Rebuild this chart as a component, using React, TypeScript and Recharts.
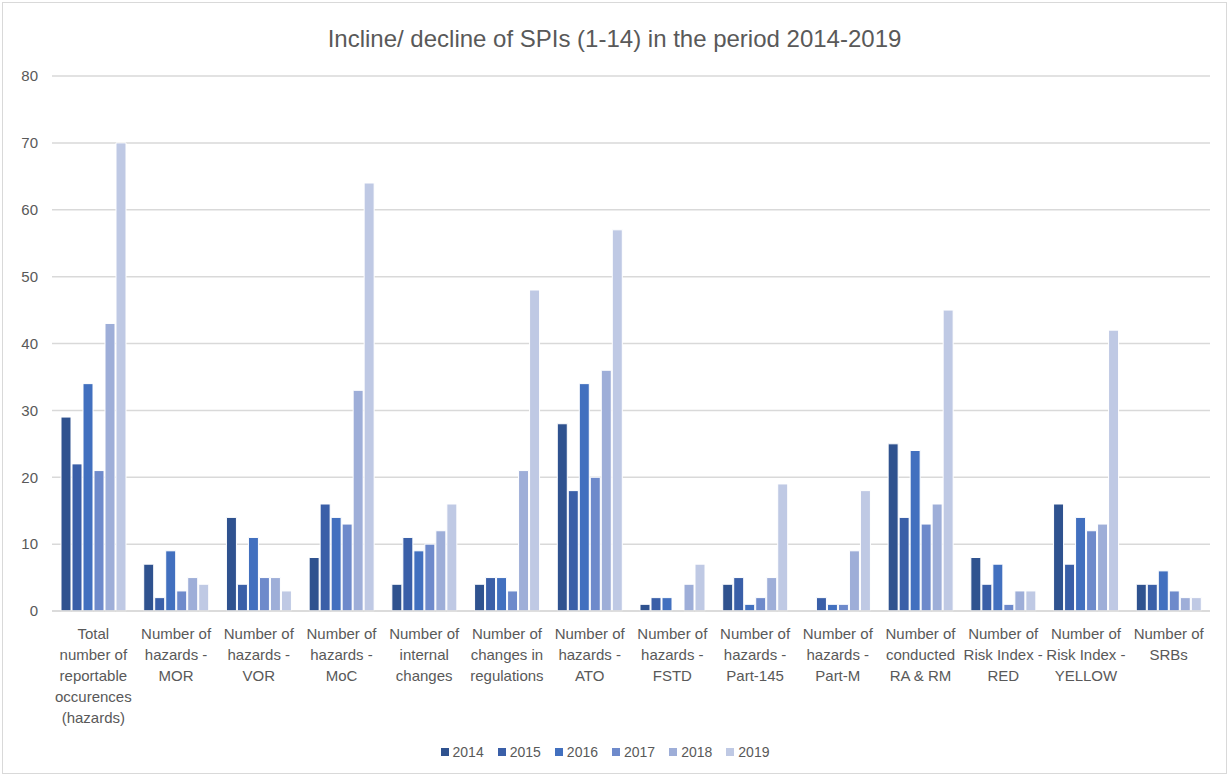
import React from 'react'
import { BarChart, Bar, XAxis, YAxis, CartesianGrid, Legend } from 'recharts'

const FONT = "'Liberation Sans Narrow', 'Arial Narrow', 'Liberation Sans', Arial, sans-serif"
const TEXT = '#595959'
const GRID = '#D9D9D9'

const categories = [
  'Total\nnumber of\nreportable\noccurences\n(hazards)',
  'Number of\nhazards -\nMOR',
  'Number of\nhazards -\nVOR',
  'Number of\nhazards -\nMoC',
  'Number of\ninternal\nchanges',
  'Number of\nchanges in\nregulations',
  'Number of\nhazards -\nATO',
  'Number of\nhazards -\nFSTD',
  'Number of\nhazards -\nPart-145',
  'Number of\nhazards -\nPart-M',
  'Number of\nconducted\nRA & RM',
  'Number of\nRisk Index -\nRED',
  'Number of\nRisk Index -\nYELLOW',
  'Number of\nSRBs',
]

const years = ['2014', '2015', '2016', '2017', '2018', '2019']
const colours = ['#2F528F', '#3A5FA8', '#4270BF', '#6E8ACB', '#9EAED8', '#BFC9E4']

const v2014 = [29, 7, 14, 8, 4, 4, 28, 1, 4, 0, 25, 8, 16, 4]
const v2015 = [22, 2, 4, 16, 11, 5, 18, 2, 5, 2, 14, 4, 7, 4]
const v2016 = [34, 9, 11, 14, 9, 5, 34, 2, 1, 1, 24, 7, 14, 6]
const v2017 = [21, 3, 5, 13, 10, 3, 20, 0, 2, 1, 13, 1, 12, 3]
const v2018 = [43, 5, 5, 33, 12, 21, 36, 4, 5, 9, 16, 3, 13, 2]
const v2019 = [70, 4, 3, 64, 16, 48, 57, 7, 19, 18, 45, 3, 42, 2]

const yTicks = [0, 10, 20, 30, 40, 50, 60, 70, 80]

const series = [v2014, v2015, v2016, v2017, v2018, v2019]
const data = categories.map((name, i) => {
  const row: Record<string, string | number> = { name }
  years.forEach((y, s) => { row[y] = series[s][i] })
  return row
})

function CategoryTick({ x, y, payload }: any) {
  const lines = String(payload.value).split('\n')
  return (
    <text x={x} y={y + 20} textAnchor="middle" fill={TEXT} fontSize={15} fontFamily={FONT}>
      {lines.map((l, i) => (
        <tspan key={i} x={x} dy={i === 0 ? 0 : 21}>{l}</tspan>
      ))}
    </text>
  )
}

function LegendContent() {
  return (
    <div style={{ display: 'flex', justifyContent: 'center', gap: 14, fontFamily: FONT, fontSize: 14, color: TEXT }}>
      {years.map((y, i) => (
        <span key={y} style={{ display: 'flex', alignItems: 'center', gap: 4 }}>
          <span style={{ width: 8, height: 8, background: colours[i], display: 'inline-block' }} />
          {y}
        </span>
      ))}
    </div>
  )
}

export default function App() {
  return (
    <div style={{ position: 'absolute', left: 0, top: 0, width: 1229, height: 776, background: '#fff' }}>
      <div style={{ position: 'absolute', left: 2, top: 2, width: 1223, height: 770, border: `1px solid ${GRID}` }} />
      <div style={{ position: 'absolute', left: 0, top: 25, width: 1229, textAlign: 'center', fontFamily: FONT, fontSize: 24, color: TEXT }}>
        Incline/ decline of SPIs (1-14) in the period 2014-2019
      </div>
      <BarChart
        width={1229}
        height={776}
        data={data}
        margin={{ top: 76, right: 19, left: 0, bottom: 16 }}
        barCategoryGap={9}
        barGap={1}
      >
        <CartesianGrid vertical={false} stroke={GRID} strokeWidth={1.5} />
        <XAxis
          dataKey="name"
          interval={0}
          height={133}
          tick={<CategoryTick />}
          tickLine={false}
          axisLine={{ stroke: GRID, strokeWidth: 1.5 }}
        />
        <YAxis
          domain={[0, 80]}
          ticks={yTicks}
          width={52}
          axisLine={false}
          tickLine={false}
          tickMargin={8}
          tick={{ fill: TEXT, fontSize: 15, fontFamily: FONT }}
        />
        <Legend verticalAlign="bottom" content={<LegendContent />} />
        {years.map((y, i) => (
          <Bar key={y} dataKey={y} fill={colours[i]} stroke="#fff" strokeWidth={1} isAnimationActive={false} />
        ))}
      </BarChart>
    </div>
  )
}
